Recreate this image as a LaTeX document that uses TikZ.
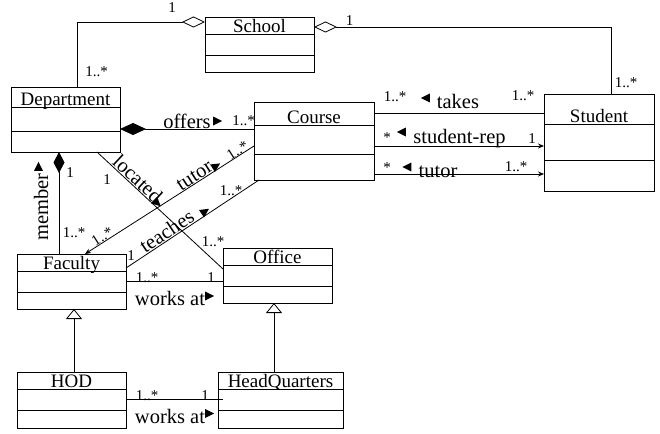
\documentclass[tikz,border=0pt]{standalone}
\usepackage{fontspec}
\setmainfont{Liberation Serif}
\usetikzlibrary{arrows.meta,calc,shapes.geometric}
\tikzset{
 classbox/.style={draw,line width=0.8pt,inner sep=0,outer sep=0},
 ctitle/.style={font=\fontsize{19}{21}\selectfont,inner sep=0,anchor=base},
 mult/.style={font=\fontsize{15}{16}\selectfont,inner sep=0,anchor=base},
 assoc/.style={font=\fontsize{20.5}{22}\selectfont,inner sep=0,anchor=base},
 slab/.style={font=\fontsize{20.5}{22}\selectfont,inner sep=0.5pt,sloped,above},
 dirtri/.style={isosceles triangle,isosceles triangle stretches,fill,inner sep=0,
   minimum width=9pt,minimum height=9pt},
 gen/.style={-{Triangle[open,length=10pt,width=16pt]}},
}
\newcommand\umlclass[8]{%
 \node[classbox,minimum width=#4pt,minimum height=#5pt,anchor=north west] (#1) at (#2,#3) {};
 \draw (#2,#3+#6) -- ++(#4,0);
 \draw (#2,#3+#7) -- ++(#4,0);
 \node[ctitle] (#1-title) at (#2+#4/2,#3+#6-1.5) {#8};
}
\begin{document}
\begin{tikzpicture}[x=1pt,y=-1pt,line width=0.8pt,>={Stealth[length=6pt,width=5pt]}]
 \useasboundingbox (0,0) rectangle (660,433);
 \umlclass{school}{205}{17}{109}{55}{17}{38}{School}
 \umlclass{dept}{11}{87}{109}{65}{20}{44}{Department}
 \umlclass{course}{254}{102}{120}{78}{23}{52}{Course}
 \umlclass{student}{544}{94}{110}{97}{30}{66}{Student}
 \umlclass{faculty}{17}{254}{109}{55}{17}{38}{Faculty}
 \umlclass{office}{223}{248}{109}{55}{17}{38}{Office}
 \umlclass{hod}{17}{372}{109}{56}{17}{38}{HOD}
 \umlclass{hq}{218}{372}{125}{56}{17}{38}{HeadQuarters}

 \draw[-{Diamond[open,length=23pt,width=11pt]}] ($(dept.north west)+(66,0)$) |- ($(school.north west)+(0,5)$);
 \draw (172,13) node[mult] (schoolm1) {1};
 \draw (96.5,77) node[mult] (deptm1) {1..*};
 \draw[{Diamond[open,length=23pt,width=11pt]}-] ($(school.north east)+(0,10)$) -| ($(student.north west)+(67,0)$);
 \draw (349.5,26) node[mult] (schoolm2) {1};
 \draw (626,88) node[mult] (studentm1) {1..*};

 \draw[{Diamond[length=26pt,width=12pt]}-] ($(dept.north east)+(0,42)$) -- ($(course.north west)+(0,27)$);
 \draw (187,128) node[assoc] (offers) {offers};
 \draw (216,121) node[dirtri] (offersdir) {};
 \draw (243.5,125) node[mult] (coursem1) {1..*};

 \draw ($(course.north east)+(0,11)$) -- ($(student.north west)+(0,19)$);
 \draw (395,102) node[mult] (takesm1) {1..*};
 \draw (427,98) node[dirtri,shape border rotate=180] (takesdir) {};
 \draw (458,109) node[assoc] (takes) {takes};
 \draw (523,100) node[mult] (takesm2) {1..*};

 \draw[->] ($(course.north east)+(0,44)$) -- ($(student.north west)+(0,52)$);
 \draw (387,142) node[mult] (repm1) {*};
 \draw (403,132) node[dirtri,shape border rotate=180] (repdir) {};
 \draw (459.5,143) node[assoc] (rep) {student-rep};
 \draw (532,143) node[mult] (repm2) {1};

 \draw[->] ($(course.north east)+(0,72)$) -- ($(student.north west)+(0,80)$);
 \draw (387,172) node[mult] (tutorm1) {*};
 \draw (408.5,167) node[dirtri,shape border rotate=180] (tutordir) {};
 \draw (438,177) node[assoc] (tutor) {tutor};
 \draw (516,171) node[mult] (tutorm2) {1..*};

 \draw ($(dept.south west)+(86,0)$) --
   node[slab,pos=0.28] (located) {located}
   node[dirtri,sloped,above,pos=0.45] (locateddir) {}
   ($(office.north west)+(0,21)$);
 \draw (107,184) node[mult] (locatedm1) {1};
 \draw (213,246) node[mult] (locatedm2) {1..*};

 \draw[->] ($(course.north west)+(0,44)$) --
   node[mult,sloped,above,pos=0.08] (ftutorm1) {1..*}
   node[dirtri,sloped,above,pos=0.22] (ftutordir) {}
   node[slab,pos=0.33] (ftutor) {tutor}
   node[mult,sloped,above,pos=0.88] (ftutorm2) {1..*}
   ($(faculty.north west)+(68,0)$);

 \draw ($(course.south west)+(5,0)$) --
   node[dirtri,sloped,above,pos=0.4] (teachesdir) {}
   node[slab,pos=0.66] (teaches) {teaches}
   ($(faculty.north east)+(0,14)$);
 \draw (231,195) node[mult] (teachesm1) {1..*};
 \draw (131,260) node[mult] (teachesm2) {1};

 \draw[{Diamond[length=21pt,width=11pt]}-] ($(dept.south west)+(48,0)$) -- ($(faculty.north west)+(42,0)$);
 \draw (41,207) node[assoc,anchor=center,rotate=90] (member) {member};
 \draw (38.5,168) node[dirtri,shape border rotate=90] (memberdir) {};
 \draw (70,177) node[mult] (memberm1) {1};
 \draw (74,237) node[mult] (memberm2) {1..*};

 \draw ($(faculty.north east)+(0,27)$) -- ($(office.north west)+(0,33)$);
 \draw (147,282) node[mult] (worksm1) {1..*};
 \draw (211,282) node[mult] (worksm2) {1};
 \draw (170,305) node[assoc] (works) {works at};
 \draw (208,296) node[dirtri] (worksdir) {};

 \draw ($(hod.north east)+(0,27)$) -- ($(hq.north west)+(5,27)$);
 \draw (147,400) node[mult] (hodm1) {1..*};
 \draw (205,400) node[mult] (hodm2) {1};
 \draw (170,423) node[assoc] (hodworks) {works at};
 \draw (208,413.5) node[dirtri] (hodworksdir) {};

 \draw[gen] ($(hod.north west)+(57,0)$) -- ($(faculty.south west)+(57,0)$);
 \draw[gen] ($(hq.north west)+(56,0)$) -- ($(office.south west)+(51,0)$);
\end{tikzpicture}
\end{document}
